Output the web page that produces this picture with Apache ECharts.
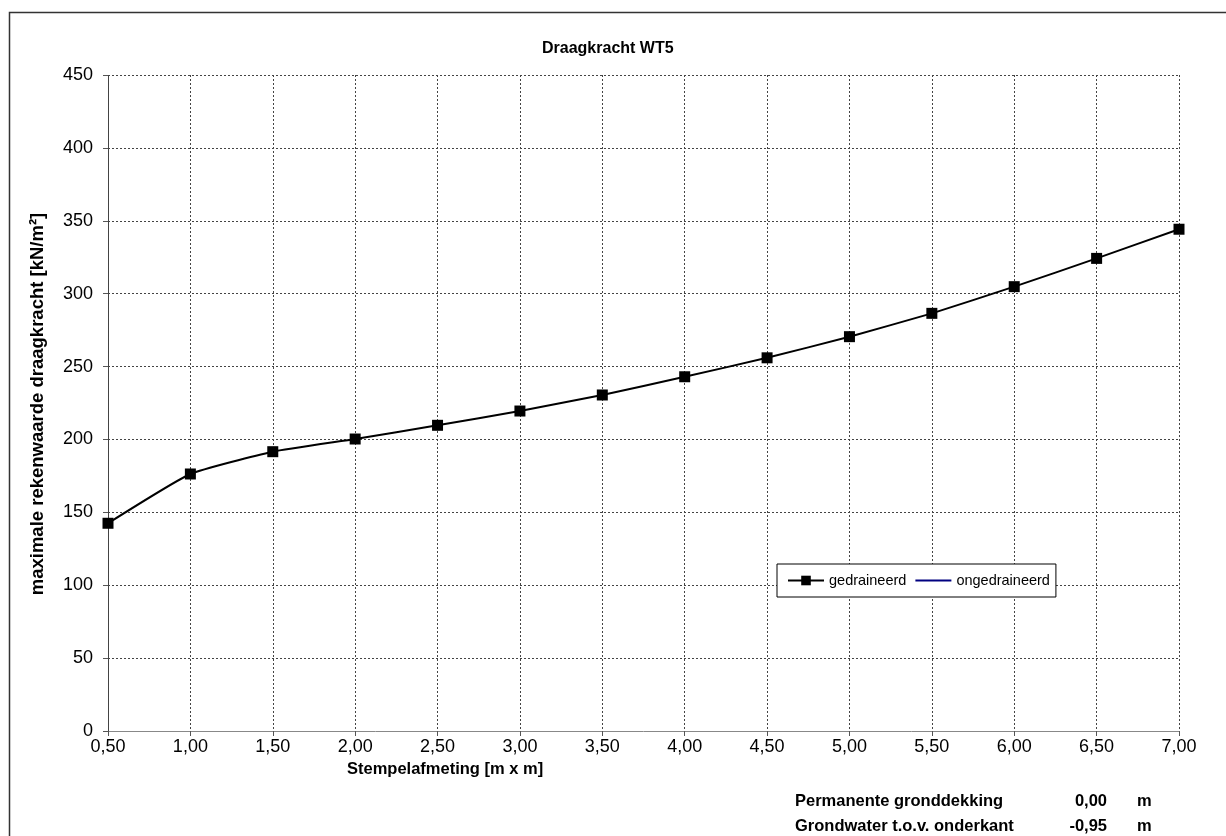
<!DOCTYPE html>
<html>
<head>
<meta charset="utf-8">
<title>Draagkracht WT5</title>
<script src="https://cdn.jsdelivr.net/npm/echarts@6/dist/echarts.min.js"></script>
<style>
  html, body { margin: 0; padding: 0; background: #fff; }
  #chart { width: 1226px; height: 836px; }
</style>
</head>
<body>
<div id="chart"></div>
<script>
// stempelafmeting [m] en draagkracht [kN/m2]
const afmeting = [0.5, 1.0, 1.5, 2.0, 2.5, 3.0, 3.5, 4.0, 4.5, 5.0, 5.5, 6.0, 6.5, 7.0]
const gedraineerd = [142.5, 176.3, 191.6, 200.3, 209.7, 219.5, 230.5, 243, 256, 270.5, 286.5, 304.8, 324.2, 344.2]
const ongedraineerd = []
const info = [
  ['Permanente gronddekking', '0,00', 'm'],
  ['Grondwater t.o.v. onderkant', '-0,95', 'm']
]

const font = 'Arial, "Liberation Sans", sans-serif'
let myChart = echarts.init(document.getElementById('chart'))

// tekstblok rechtsonder
let infoText = []
info.forEach((r, i) => {
  const y = 793 + i * 25
  const st = { fontFamily: font, fontSize: 16.5, fontWeight: 'bold', fill: '#000' }
  infoText.push({ type: 'text', left: 795, top: y, style: Object.assign({ text: r[0] }, st) })
  infoText.push({ type: 'text', right: 1226 - 1107, top: y, style: Object.assign({ text: r[1] }, st) })
  infoText.push({ type: 'text', left: 1137, top: y, style: Object.assign({ text: r[2] }, st) })
})

let option = {
  animation: false,
  backgroundColor: '#fff',
  title: {
    text: 'Draagkracht WT5',
    left: 537,
    top: 36,
    textStyle: { fontFamily: font, fontSize: 16, fontWeight: 'bold', color: '#000' }
  },
  legend: {
    left: 777,
    top: 564,
    padding: [9, 6, 9, 10],
    itemGap: 8,
    itemWidth: 36,
    itemHeight: 12,
    borderColor: '#000',
    borderWidth: 1,
    backgroundColor: '#fff',
    textStyle: { fontFamily: font, fontSize: 14.5, color: '#000' },
    data: [
      { name: 'gedraineerd' },
      { name: 'ongedraineerd', itemStyle: { opacity: 0 } }
    ]
  },
  grid: {
    left: 108,
    right: 47,
    top: 75,
    bottom: 105,
    containLabel: false
  },
  xAxis: {
    type: 'value',
    min: 0.5,
    max: 7,
    interval: 0.5,
    axisLine: { lineStyle: { color: '#888', width: 1 } },
    axisTick: { length: 5, lineStyle: { color: '#555' } },
    axisLabel: {
      color: '#000',
      fontFamily: font,
      fontSize: 18,
      margin: 7,
      formatter: v => v.toFixed(2).replace('.', ',')
    },
    splitLine: { show: true, lineStyle: { color: '#444', type: [2, 2], width: 1 } }
  },
  yAxis: {
    type: 'value',
    min: 0,
    max: 450,
    interval: 50,
    axisLine: { show: true, lineStyle: { color: '#444', type: [2, 2] } },
    axisTick: { show: true, length: 5, lineStyle: { color: '#555' } },
    axisLabel: { color: '#000', fontFamily: font, fontSize: 18, margin: 15 },
    splitLine: { show: true, lineStyle: { color: '#444', type: [2, 2], width: 1 } }
  },
  graphic: [
    {
      type: 'rect',
      silent: true,
      shape: { x: 9.5, y: 12.5, width: 1400, height: 1000 },
      style: { fill: 'none', stroke: '#333', lineWidth: 1.5 }
    },
    {
      type: 'text',
      left: 347,
      top: 761,
      style: { text: 'Stempelafmeting [m x m]', fontFamily: font, fontSize: 16.5, fontWeight: 'bold', fill: '#000' }
    },
    {
      type: 'text',
      x: 38,
      y: 404,
      rotation: Math.PI / 2,
      style: {
        text: 'maximale rekenwaarde draagkracht [kN/m²]',
        fontFamily: font,
        fontSize: 18.5,
        fontWeight: 'bold',
        fill: '#000',
        align: 'center',
        verticalAlign: 'middle'
      }
    }
  ].concat(infoText),
  series: [
    {
      name: 'gedraineerd',
      type: 'line',
      smooth: 0.15,
      symbol: 'rect',
      symbolSize: 11,
      color: '#000',
      lineStyle: { color: '#000', width: 2 },
      itemStyle: { color: '#000' },
      data: afmeting.map((x, i) => [x, gedraineerd[i]])
    },
    {
      name: 'ongedraineerd',
      type: 'line',
      symbol: 'none',
      color: '#000080',
      lineStyle: { color: '#000080', width: 2 },
      data: ongedraineerd
    }
  ]
}

myChart.setOption(option)
</script>
</body>
</html>
